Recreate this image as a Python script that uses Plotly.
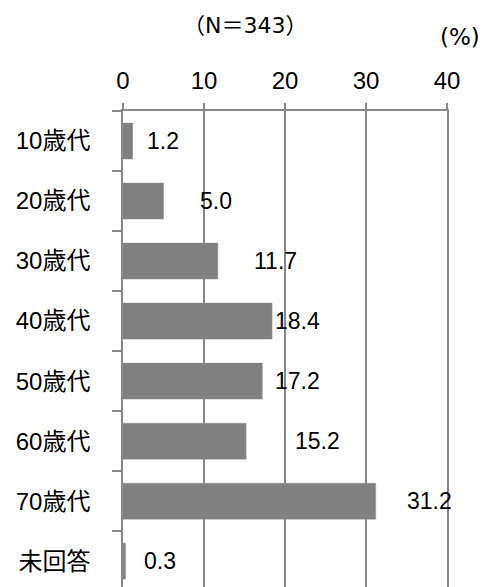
import plotly.graph_objects as go

categories = ["10歳代", "20歳代", "30歳代", "40歳代", "50歳代", "60歳代", "70歳代", "未回答"]
values = [1.2, 5.0, 11.7, 18.4, 17.2, 15.2, 31.2, 0.3]
value_labels = ["1.2", "5.0", "11.7", "18.4", "17.2", "15.2", "31.2", "0.3"]
x_ticks = [0, 10, 20, 30, 40]
title_text = "（N＝343）"
unit_text = "(%)"

# label placement offsets (in axis units, to the right of each bar end)
label_offsets = [3.7, 6.5, 7.1, 3.2, 4.3, 8.8, 6.7, 4.3]

FONT = "Liberation Sans, Arial, Noto Sans CJK JP"
GRAY = "#878787"

fig = go.Figure()
fig.add_trace(go.Bar(
    y=categories, x=values, orientation="h",
    marker=dict(color="#808080", line=dict(color="#909090", width=0.5)),
    width=0.6, hoverinfo="skip",
))

for cat, v, lab, off in zip(categories, values, value_labels, label_offsets):
    fig.add_annotation(x=v + off, y=cat, text=lab, showarrow=False,
                       xanchor="center", yanchor="middle",
                       font=dict(size=23, color="#000000", family=FONT))

fig.add_annotation(xref="paper", yref="paper", x=0.377, y=1.18, text=title_text,
                   showarrow=False, xanchor="center", yanchor="middle",
                   font=dict(size=22, color="#000000", family="DejaVu Sans, Noto Sans CJK JP"))
fig.add_annotation(xref="paper", yref="paper", x=1.04, y=1.155, text=unit_text,
                   showarrow=False, xanchor="center", yanchor="middle",
                   font=dict(size=23, color="#000000", family="DejaVu Sans, Noto Sans CJK JP"))

fig.update_layout(
    width=494, height=587,
    margin=dict(l=123, r=47, t=111, b=0),
    paper_bgcolor="white", plot_bgcolor="white",
    showlegend=False,
    font=dict(family=FONT, color="#000000"),
    xaxis=dict(
        side="top", range=[0, 40], tickvals=x_ticks, ticktext=[str(t) for t in x_ticks],
        showline=True, linecolor=GRAY, linewidth=1.5,
        ticks="outside", ticklen=6, tickcolor=GRAY, tickwidth=1.5,
        showgrid=True, gridcolor=GRAY, gridwidth=1.5, zeroline=False,
        tickfont=dict(size=24, family=FONT, color="#000000"),
        ticklabelstandoff=5,
    ),
    yaxis=dict(
        type="category", categoryorder="array", categoryarray=categories,
        range=[7.43, -0.5],
        showline=True, mirror=True, linecolor=GRAY, linewidth=1.5,
        ticks="outside", ticklen=9, tickcolor=GRAY, tickwidth=1.5,
        tickson="boundaries", showgrid=False, zeroline=False,
        tickfont=dict(size=24, family="Liberation Sans, Noto Sans CJK JP", color="#000000"),
        ticklabelstandoff=26,
    ),
)

fig.write_html("out.html", config={"displayModeBar": False})
with open("out.html", encoding="utf-8") as f:
    html = f.read()
html = html.replace("<head>", "<head><style>html,body{margin:0;padding:0;overflow:hidden;}</style>", 1)
with open("out.html", "w", encoding="utf-8") as f:
    f.write(html)
